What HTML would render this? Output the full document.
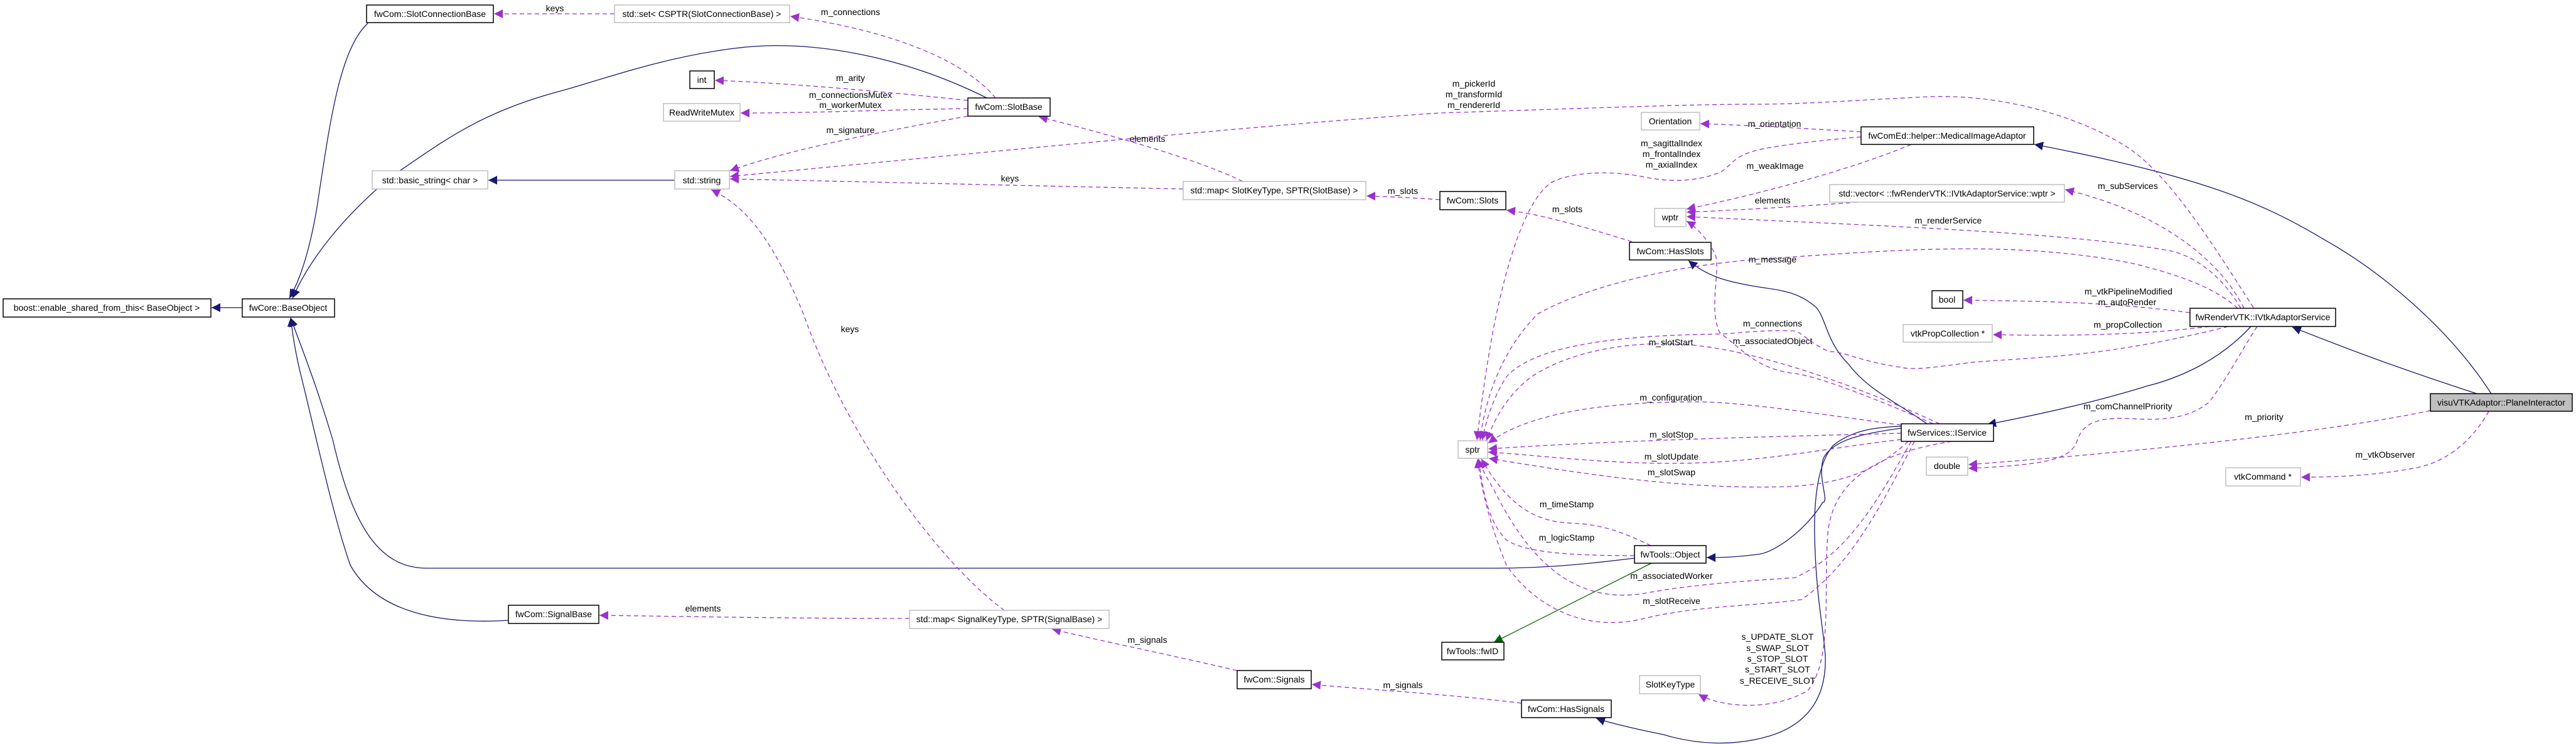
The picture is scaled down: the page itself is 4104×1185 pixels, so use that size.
<!DOCTYPE html>
<html><head><meta charset="utf-8"><style>
html,body{margin:0;padding:0;background:#fff;}
svg{display:block;}
text{font-family:"Liberation Sans","DejaVu Sans",sans-serif;font-size:14px;fill:#000;}
.n{fill:#fff;stroke:#000;stroke-width:1.5;}
.g{fill:#fff;stroke:#bfbfbf;stroke-width:1.5;}
.p{fill:none;stroke:#9a32cd;stroke-width:1.3;stroke-dasharray:7,5;}
.b{fill:none;stroke:#191970;stroke-width:1.3;}
.gr{fill:none;stroke:#006400;stroke-width:1.3;}
</style></head><body>
<svg width="4104" height="1185" viewBox="0 0 4104 1185" xmlns="http://www.w3.org/2000/svg">
<defs>
<marker id="ap" viewBox="0 0 10 10" refX="10" refY="5" markerWidth="14" markerHeight="14" markerUnits="userSpaceOnUse" orient="auto"><path d="M0,0L10,5L0,10z" fill="#9a32cd"/></marker>
<marker id="ab" viewBox="0 0 10 10" refX="10" refY="5" markerWidth="14" markerHeight="14" markerUnits="userSpaceOnUse" orient="auto"><path d="M0,0L10,5L0,10z" fill="#191970"/></marker>
<marker id="ag" viewBox="0 0 10 10" refX="10" refY="5" markerWidth="14" markerHeight="14" markerUnits="userSpaceOnUse" orient="auto"><path d="M0,0L10,5L0,10z" fill="#006400"/></marker>
</defs>

<!-- inheritance edges -->
<g marker-end="url(#ab)">
<path class="b" d="M386,490 L337,490"/>
<path class="b" d="M586,37 C540,80 525,200 505,330 C490,420 470,460 461,475"/>
<path class="b" d="M1572,156 C1450,95 1300,60 1170,77 C1050,92 950,130 893,145 C760,180 700,230 625,280 C540,350 490,420 466,475"/>
<path class="b" d="M1075,287 L778,287"/>
<path class="b" d="M2604,889 C2500,902 2440,905 2380,905 L680,905 C600,905 560,830 530,700 C500,600 475,540 463,506"/>
<path class="b" d="M810,988 C700,995 600,975 558,900 C530,820 500,680 480,600 C470,560 466,530 463,506"/>
<path class="b" d="M3070,675 C3020,640 2975,620 2945,580 C2910,545 2910,510 2894,490 C2860,460 2825,462 2790,455 C2750,448 2720,440 2690,415"/>
<path class="b" d="M3586,520 C3540,570 3480,600 3420,615 C3340,640 3250,660 3166,676"/>
<path class="b" d="M3946,627 C3800,580 3700,540 3652,521"/>
<path class="b" d="M3969,627 C3900,520 3790,430 3700,380 C3600,320 3500,280 3241,230"/>
<path class="b" d="M3029,679 C2990,680 2950,685 2920,710 C2895,740 2890,800 2891,853 C2893,950 2905,1000 2908,1044 C2910,1100 2890,1150 2820,1172 C2760,1190 2700,1185 2650,1170 C2600,1160 2560,1150 2543,1144"/>
<path class="b" d="M3029,682 C2970,690 2920,700 2905,730 C2895,760 2915,800 2904,800 C2880,840 2830,880 2800,883 C2760,888 2740,888 2719,888"/>
</g>
<path class="gr" d="M2631,897 L2380,1023" marker-end="url(#ag)"/>

<!-- usage edges -->
<g marker-end="url(#ap)">
<path class="p" d="M979,22 L787,22"/>
<path class="p" d="M1586,156 C1540,100 1430,50 1259,26"/>
<path class="p" d="M1542,160 C1400,145 1250,132 1139,128"/>
<path class="p" d="M1542,173 C1400,175 1300,180 1180,180"/>
<path class="p" d="M1542,185 C1400,210 1250,240 1163,272"/>
<path class="p" d="M1885,301 C1600,295 1400,290 1163,285"/>
<path class="p" d="M1980,289 C1900,250 1750,210 1655,186"/>
<path class="p" d="M2294,318 C2250,315 2210,313 2177,312"/>
<path class="p" d="M2600,385 C2520,360 2450,340 2400,335"/>
<path class="p" d="M1600,972 C1500,900 1350,700 1280,500 C1230,380 1190,330 1133,302"/>
<path class="p" d="M1449,985 C1250,985 1100,982 955,980"/>
<path class="p" d="M1971,1068 C1850,1040 1750,1020 1676,1002"/>
<path class="p" d="M2424,1120 C2300,1105 2200,1100 2090,1090"/>
<path class="p" d="M3590,490 C3520,380 3450,270 3382,230 C3300,180 3180,150 3074,154 C2950,160 2870,166 2800,166 C2700,166 2600,170 2293,180 C2000,200 1600,240 1163,281"/>
<path class="p" d="M2965,210 C2880,205 2800,200 2709,197"/>
<path class="p" d="M3045,230 C2950,270 2800,310 2687,333"/>
<path class="p" d="M2965,218 C2880,225 2810,235 2793,241 C2760,250 2755,268 2739,275 C2700,290 2660,290 2620,282 C2560,270 2500,275 2471,291 C2430,320 2400,420 2380,520 C2365,600 2358,660 2353,701"/>
<path class="p" d="M2960,322 C2850,330 2760,335 2687,338"/>
<path class="p" d="M3575,491 C3540,420 3450,340 3290,302"/>
<path class="p" d="M3570,491 C3540,440 3500,410 3460,400 C3300,370 3000,360 2687,345"/>
<path class="p" d="M3565,491 C3530,460 3480,440 3400,420 C3200,380 3000,400 2800,413 C2650,425 2520,460 2450,500 C2390,560 2365,640 2358,701"/>
<path class="p" d="M3489,498 C3350,480 3250,480 3128,478"/>
<path class="p" d="M3520,520 C3400,535 3280,535 3175,533"/>
<path class="p" d="M3550,520 C3350,570 3250,568 3143,577 C3080,585 3050,590 3028,585 C2960,575 2940,560 2914,560 C2880,545 2870,527 2856,527 C2800,525 2760,532 2741,532 C2600,534 2450,545 2400,600 C2375,640 2365,680 2362,701"/>
<path class="p" d="M3080,675 C3000,640 2900,600 2860,595 C2800,588 2780,560 2740,530 C2720,490 2745,420 2730,400 C2720,380 2700,360 2687,352"/>
<path class="p" d="M3090,675 C2950,610 2800,560 2700,550 C2600,540 2500,560 2440,600 C2400,630 2380,670 2368,702"/>
<path class="p" d="M3029,677 C2900,660 2780,640 2700,640 C2550,640 2430,660 2371,706"/>
<path class="p" d="M3029,690 C2850,695 2600,700 2371,715"/>
<path class="p" d="M3029,700 C2900,715 2800,738 2663,738 C2550,738 2450,725 2371,720"/>
<path class="p" d="M3040,703 C3000,740 2950,770 2850,775 C2700,780 2550,760 2372,730"/>
<path class="p" d="M2630,869 C2580,845 2550,835 2500,833 C2440,830 2400,800 2360,731"/>
<path class="p" d="M2604,885 C2500,885 2430,880 2400,860 C2370,830 2362,780 2356,731"/>
<path class="p" d="M3045,703 C3000,780 2950,880 2860,920 C2790,925 2700,930 2620,945 C2500,965 2430,880 2380,780 C2365,755 2358,740 2355,731"/>
<path class="p" d="M3050,703 C3000,800 2950,900 2870,955 C2800,965 2700,965 2620,985 C2520,1010 2440,960 2400,900 C2375,840 2360,780 2354,731"/>
<path class="p" d="M3110,703 C3000,720 2920,760 2912,850 C2905,950 2920,1050 2880,1100 C2830,1130 2750,1130 2706,1106"/>
<path class="p" d="M3872,654 C3700,690 3400,720 3136,740"/>
<path class="p" d="M3596,520 C3570,560 3550,600 3520,640 C3490,665 3450,670 3400,667 C3350,664 3320,670 3310,700 C3300,730 3270,740 3136,746"/>
<path class="p" d="M3965,655 C3940,700 3900,735 3850,745 C3780,758 3720,760 3666,760"/>
</g>

<!-- nodes -->
<rect class="n" x="584" y="8" width="202" height="28"/><text x="685" y="27" text-anchor="middle">fwCom::SlotConnectionBase</text>
<rect class="g" x="979" y="8" width="279" height="28"/><text x="1118" y="27" text-anchor="middle">std::set&lt; CSPTR(SlotConnectionBase) &gt;</text>
<rect class="n" x="1099" y="113" width="39" height="28"/><text x="1118" y="132" text-anchor="middle">int</text>
<rect class="g" x="1057" y="165" width="122" height="28"/><text x="1118" y="184" text-anchor="middle">ReadWriteMutex</text>
<rect class="g" x="593" y="272" width="184" height="29"/><text x="685" y="292" text-anchor="middle">std::basic_string&lt; char &gt;</text>
<rect class="g" x="1075" y="272" width="87" height="29"/><text x="1118" y="292" text-anchor="middle">std::string</text>
<rect class="n" x="5" y="476" width="331" height="29"/><text x="170" y="495" text-anchor="middle">boost::enable_shared_from_this&lt; BaseObject &gt;</text>
<rect class="n" x="386" y="476" width="147" height="29"/><text x="459" y="495" text-anchor="middle">fwCore::BaseObject</text>
<rect class="n" x="1542" y="156" width="131" height="29"/><text x="1607" y="175" text-anchor="middle">fwCom::SlotBase</text>
<rect class="g" x="1885" y="289" width="291" height="29"/><text x="2030" y="308" text-anchor="middle">std::map&lt; SlotKeyType, SPTR(SlotBase) &gt;</text>
<rect class="n" x="2294" y="305" width="105" height="29"/><text x="2346" y="324" text-anchor="middle">fwCom::Slots</text>
<rect class="g" x="2615" y="179" width="93" height="28"/><text x="2661" y="198" text-anchor="middle">Orientation</text>
<rect class="g" x="2636" y="332" width="50" height="29"/><text x="2661" y="351" text-anchor="middle">wptr</text>
<rect class="n" x="2596" y="386" width="130" height="28"/><text x="2661" y="405" text-anchor="middle">fwCom::HasSlots</text>
<rect class="n" x="2965" y="202" width="275" height="28"/><text x="3102" y="221" text-anchor="middle">fwComEd::helper::MedicalImageAdaptor</text>
<rect class="g" x="2915" y="294" width="374" height="28"/><text x="3102" y="313" text-anchor="middle">std::vector&lt; ::fwRenderVTK::IVtkAdaptorService::wptr &gt;</text>
<rect class="n" x="3078" y="463" width="49" height="28"/><text x="3102" y="482" text-anchor="middle">bool</text>
<rect class="n" x="3489" y="491" width="232" height="29"/><text x="3605" y="510" text-anchor="middle">fwRenderVTK::IVtkAdaptorService</text>
<rect class="g" x="3032" y="517" width="142" height="28"/><text x="3103" y="536" text-anchor="middle">vtkPropCollection *</text>
<rect class="g" x="2323" y="702" width="47" height="28"/><text x="2346" y="721" text-anchor="middle">sptr</text>
<rect class="n" x="3029" y="675" width="147" height="28"/><text x="3102" y="694" text-anchor="middle">fwServices::IService</text>
<rect x="3872" y="627" width="226" height="28" fill="#bfbfbf" stroke="#000" stroke-width="1.5"/><text x="3985" y="646" text-anchor="middle">visuVTKAdaptor::PlaneInteractor</text>
<rect class="g" x="3069" y="728" width="66" height="29"/><text x="3102" y="747" text-anchor="middle">double</text>
<rect class="g" x="3546" y="745" width="119" height="29"/><text x="3605" y="764" text-anchor="middle">vtkCommand *</text>
<rect class="n" x="2604" y="869" width="114" height="28"/><text x="2661" y="888" text-anchor="middle">fwTools::Object</text>
<rect class="n" x="2297" y="1023" width="99" height="28"/><text x="2346" y="1042" text-anchor="middle">fwTools::fwID</text>
<rect class="n" x="810" y="964" width="144" height="29"/><text x="882" y="983" text-anchor="middle">fwCom::SignalBase</text>
<rect class="g" x="1449" y="972" width="318" height="29"/><text x="1608" y="991" text-anchor="middle">std::map&lt; SignalKeyType, SPTR(SignalBase) &gt;</text>
<rect class="n" x="1971" y="1068" width="118" height="29"/><text x="2030" y="1087" text-anchor="middle">fwCom::Signals</text>
<rect class="g" x="2612" y="1076" width="97" height="29"/><text x="2661" y="1095" text-anchor="middle">SlotKeyType</text>
<rect class="n" x="2424" y="1115" width="143" height="28"/><text x="2495" y="1134" text-anchor="middle">fwCom::HasSignals</text>

<!-- labels -->
<g text-anchor="middle">
<text x="884" y="18">keys</text>
<text x="1355" y="24">m_connections</text>
<text x="1355" y="129">m_arity</text>
<text x="1355" y="156">m_connectionsMutex</text>
<text x="1355" y="172">m_workerMutex</text>
<text x="1355" y="212">m_signature</text>
<text x="1609" y="289">keys</text>
<text x="1828" y="226">elements</text>
<text x="2348" y="138">m_pickerId</text>
<text x="2348" y="155">m_transformId</text>
<text x="2348" y="172">m_rendererId</text>
<text x="2235" y="309">m_slots</text>
<text x="2497" y="338">m_slots</text>
<text x="2827" y="202">m_orientation</text>
<text x="2663" y="233">m_sagittalIndex</text>
<text x="2663" y="250">m_frontalIndex</text>
<text x="2663" y="267">m_axialIndex</text>
<text x="2828" y="269">m_weakImage</text>
<text x="2824" y="324">elements</text>
<text x="3390" y="301">m_subServices</text>
<text x="3104" y="356">m_renderService</text>
<text x="2824" y="418">m_message</text>
<text x="3391" y="469">m_vtkPipelineModified</text>
<text x="3389" y="486">m_autoRender</text>
<text x="2824" y="520">m_connections</text>
<text x="2824" y="548">m_associatedObject</text>
<text x="3390" y="522">m_propCollection</text>
<text x="2662" y="550">m_slotStart</text>
<text x="2662" y="638">m_configuration</text>
<text x="3390" y="652">m_comChannelPriority</text>
<text x="3607" y="669">m_priority</text>
<text x="2663" y="697">m_slotStop</text>
<text x="2663" y="732">m_slotUpdate</text>
<text x="3800" y="729">m_vtkObserver</text>
<text x="2663" y="757">m_slotSwap</text>
<text x="2496" y="808">m_timeStamp</text>
<text x="2496" y="861">m_logicStamp</text>
<text x="2663" y="922">m_associatedWorker</text>
<text x="2663" y="962">m_slotReceive</text>
<text x="1354" y="529">keys</text>
<text x="1120" y="974">elements</text>
<text x="1828" y="1024">m_signals</text>
<text x="2235" y="1096">m_signals</text>
<text x="2832" y="1019">s_UPDATE_SLOT</text>
<text x="2832" y="1037">s_SWAP_SLOT</text>
<text x="2832" y="1054">s_STOP_SLOT</text>
<text x="2832" y="1071">s_START_SLOT</text>
<text x="2832" y="1089">s_RECEIVE_SLOT</text>
</g>
</svg>
</body></html>
